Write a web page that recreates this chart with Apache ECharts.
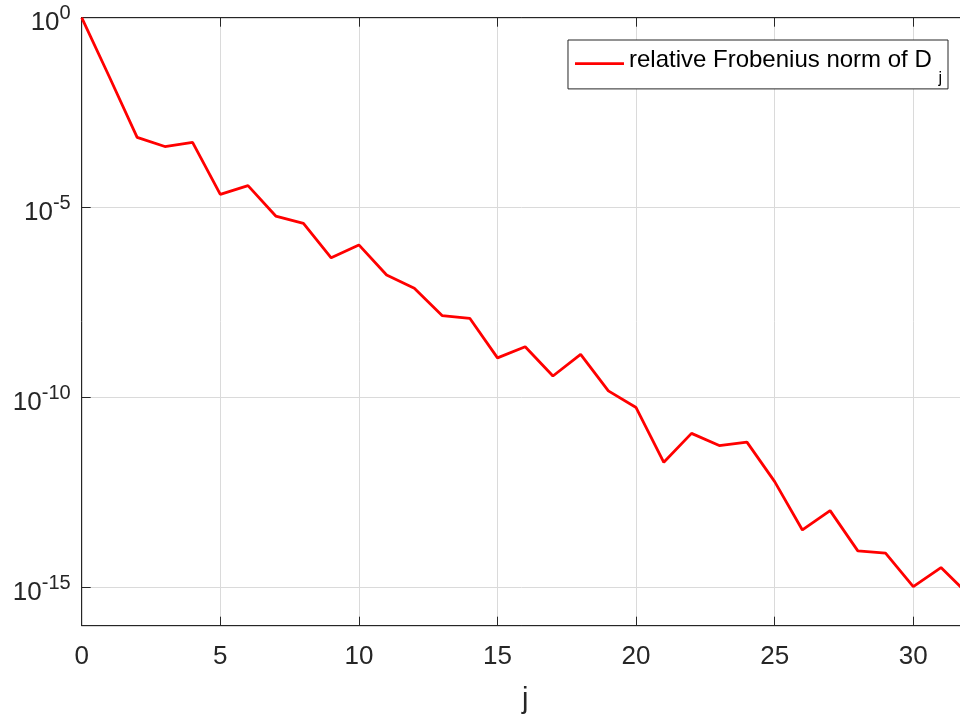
<!DOCTYPE html>
<html><head><meta charset="utf-8">
<script src="https://cdn.jsdelivr.net/npm/echarts@6/dist/echarts.min.js"></script>
<style>html,body{margin:0;padding:0;background:#fff}#c{width:960px;height:716px}</style>
</head><body><div id="c"></div>
<script>
// iteration index j
const jValues = [0,1,2,3,4,5,6,7,8,9,10,11,12,13,14,15,16,17,18,19,20,21,22,23,24,25,26,27,28,29,30,31,32];
// relative Frobenius norm of D_j
const normValues = [
  1, 2.75e-2, 7.08e-4, 4.07e-4, 5.25e-4, 2.24e-5, 3.80e-5, 6.03e-6, 3.89e-6, 4.79e-7,
  1.05e-6, 1.70e-7, 7.59e-8, 1.45e-8, 1.23e-8, 1.12e-9, 2.19e-9, 3.72e-10, 1.38e-9, 1.51e-10,
  5.50e-11, 2.00e-12, 1.15e-11, 5.50e-12, 6.76e-12, 6.17e-13, 3.31e-14, 1.07e-13, 9.33e-15, 8.13e-15,
  1.07e-15, 3.39e-15, 6.46e-16
];
const xTickValues = [0,5,10,15,20,25,30];
const yTickValues = [1e-15,1e-10,1e-5,1];
const seriesName = 'relative Frobenius norm of D_j';
const xAxisName = 'j';

const FONT = "'Liberation Sans', Arial, Helvetica, sans-serif";
const DARK = '#262626';
const GRIDC = '#dadada';

const chart = echarts.init(document.getElementById('c'), null, {renderer: 'canvas'});
const data = jValues.map((j, i) => [j, normValues[i]]);

chart.setOption({
  animation: false,
  backgroundColor: '#fff',
  textStyle: {fontFamily: FONT},
  grid: {left: 81.7, right: -8.7, top: 17.7, bottom: 90.3, show: true,
         outerBoundsMode: 'none', containLabel: false,
         borderColor: DARK, borderWidth: 1, backgroundColor: 'transparent'},
  legend: {
    right: 12, top: 40,
    padding: [6.6, 6, 2.5, 7],
    borderColor: DARK, borderWidth: 1, borderRadius: 0, backgroundColor: '#fff',
    itemWidth: 49, itemHeight: 2.8,
    data: [{name: seriesName, icon: 'rect'}],
    formatter: () => '{a|relative Frobenius norm of D }{sub|j}',
    textStyle: {
      fontFamily: FONT, color: '#000', lineHeight: 34,
      rich: {
        a: {fontFamily: FONT, fontSize: 24, lineHeight: 34, verticalAlign: 'top', padding: [1.7, 0, 0, 0], color: '#000'},
        sub: {fontFamily: FONT, fontSize: 16, lineHeight: 34, verticalAlign: 'top', padding: [23.8, 0, 0, 0], color: '#000'}
      }
    }
  },
  xAxis: [{
    type: 'value', min: 0, max: 32, interval: 5,
    name: xAxisName, nameLocation: 'middle', nameGap: 60,
    nameTextStyle: {fontFamily: FONT, fontSize: 29, color: DARK},
    axisLine: {show: true, lineStyle: {color: DARK, width: 1}},
    axisTick: {show: true, inside: true, length: 9, lineStyle: {color: DARK, width: 1}, customValues: xTickValues},
    axisLabel: {margin: 18, fontSize: 26, color: DARK, fontFamily: FONT, customValues: xTickValues},
    splitLine: {show: true, lineStyle: {color: GRIDC, width: 1}}
  }, {
    type: 'value', min: 0, max: 32, interval: 5, position: 'top',
    axisLine: {show: true, lineStyle: {color: DARK, width: 1}},
    axisTick: {show: true, inside: true, length: 9, lineStyle: {color: DARK, width: 1}, customValues: xTickValues},
    axisLabel: {show: false},
    splitLine: {show: false}
  }],
  yAxis: {
    type: 'log', logBase: 10, min: 1e-16, max: 1,
    axisLine: {show: true, lineStyle: {color: DARK, width: 1}},
    axisTick: {show: true, inside: true, length: 9, lineStyle: {color: DARK, width: 1}, customValues: yTickValues},
    axisLabel: {
      margin: 11, color: DARK, fontFamily: FONT, customValues: yTickValues,
      padding: [10, 0, 0, 0],
      formatter: v => '{b|10}{s|' + Math.round(Math.log10(v)) + '}',
      rich: {
        b: {fontFamily: FONT, fontSize: 26, lineHeight: 26, verticalAlign: 'bottom', color: DARK},
        s: {fontFamily: FONT, fontSize: 20, lineHeight: 20, verticalAlign: 'bottom', padding: [0, 0, 12, 0], color: DARK}
      }
    },
    splitLine: {show: true, lineStyle: {color: GRIDC, width: 1}}
  },
  series: [{
    name: seriesName, type: 'line', xAxisIndex: 0,
    data: data, symbol: 'none', showSymbol: false,
    lineStyle: {color: '#ff0000', width: 2.8},
    itemStyle: {color: '#ff0000'},
    clip: true
  }]
});
</script></body></html>
